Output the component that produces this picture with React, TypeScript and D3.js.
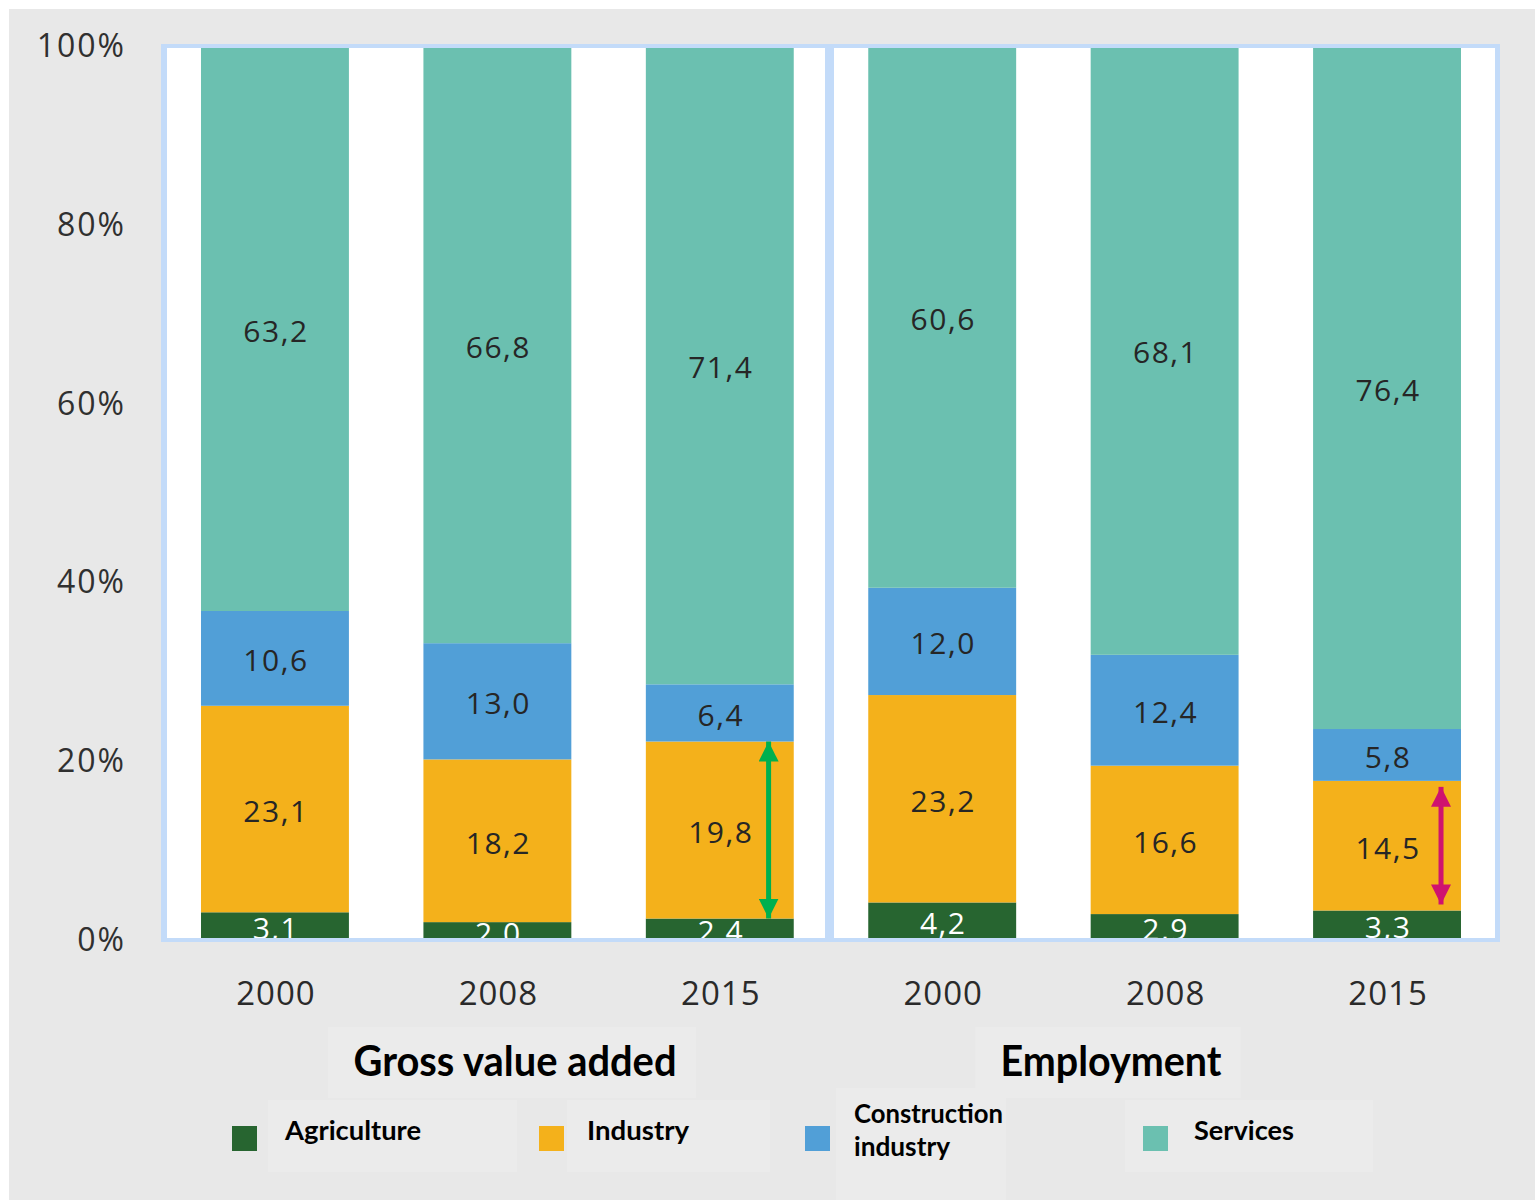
import React from "react";
import * as d3 from "d3";

const groups = ["Gross value added", "Employment"];
const years = ["2000", "2008", "2015"];
const sectors = ["Agriculture", "Industry", "Construction industry", "Services"];
const agriculture = [3.1, 2.0, 2.4, 4.2, 2.9, 3.3];
const industry = [23.1, 18.2, 19.8, 23.2, 16.6, 14.5];
const construction = [10.6, 13.0, 6.4, 12.0, 12.4, 5.8];
const services = [63.2, 66.8, 71.4, 60.6, 68.1, 76.4];
const yTicks = [0, 20, 40, 60, 80, 100];
const colors = ["#276530", "#f4b11b", "#519fd7", "#6bc0b0"];
const legendLines = [["Agriculture"], ["Industry"], ["Construction", "industry"], ["Services"]];
// annotation arrows: bar index, from stacked layer top -> to stacked layer top
const arrows = [
  { bar: 2, fromLayer: 0, toLayer: 1, color: "#00b04f", offset: 0.83, inset: 0 },
  { bar: 5, fromLayer: 0, toLayer: 1, color: "#cf136f", offset: 0.865, inset: 6 },
];

const W = 1535;
const H = 1200;

export default function App() {
  const keys = groups.flatMap((g) => years.map((y) => `${g}|${y}`));
  const rows = keys.map((k, i) => ({
    key: k,
    Agriculture: agriculture[i],
    Industry: industry[i],
    "Construction industry": construction[i],
    Services: services[i],
  }));
  const stack = d3.stack<any>().keys(sectors)(rows);

  const x = d3
    .scaleBand<string>()
    .domain(keys)
    .range([164, 1498])
    .paddingInner(0.335)
    .paddingOuter(0.1664);
  const y = d3.scaleLinear().domain([0, 100]).range([940, 46]);
  const bw = x.bandwidth();
  const fmt = (v: number) => d3.format(".1f")(v).replace(".", ",");

  const panels = [
    { outer: [161, 44, 667, 898], inner: [167, 48, 658, 890] },
    { outer: [828, 44, 672, 898], inner: [834, 48, 661, 890] },
  ];

  const titleBoxes = [
    { cx: 515, w: 368, len: 323 },
    { cx: 1111, w: 265, len: 221 },
  ];
  const legendItems = [
    { sx: 232, tx: 285, lens: [136], box: [268, 249] },
    { sx: 539, tx: 587, lens: [102], box: [567, 203] },
    { sx: 805, tx: 854, lens: [149, 96], box: [836, 170] },
    { sx: 1143, tx: 1194, lens: [100], box: [1125, 248] },
  ];

  return (
    <svg
      width={W}
      height={H}
      style={{ position: "absolute", left: 0, top: 0, display: "block" }}
    >
      <rect x={0} y={0} width={W} height={H} fill="#ffffff" />
      <rect x={9} y={9} width={W - 9} height={H - 9} fill="#e8e8e8" />
      <defs>
        {panels.map((p, i) => (
          <clipPath id={`clip${i}`} key={i}>
            <rect x={p.inner[0]} y={p.inner[1]} width={p.inner[2]} height={p.inner[3]} />
          </clipPath>
        ))}
        {arrows.map((a, i) => (
          <marker
            key={i}
            id={`ah${i}`}
            viewBox="0 0 10 10"
            refX={10}
            refY={5}
            markerUnits="userSpaceOnUse"
            markerWidth={20}
            markerHeight={20}
            orient="auto-start-reverse"
          >
            <path d="M0,0 L10,5 L0,10 Z" fill={a.color} />
          </marker>
        ))}
      </defs>

      {panels.map((p, i) => (
        <g key={i}>
          <rect x={p.outer[0]} y={p.outer[1]} width={p.outer[2]} height={p.outer[3]} fill="#c3dbf9" />
          <rect x={p.inner[0]} y={p.inner[1]} width={p.inner[2]} height={p.inner[3]} fill="#ffffff" />
        </g>
      ))}

      {panels.map((p, pi) => (
        <g key={pi} clipPath={`url(#clip${pi})`}>
          {stack.map((layer, li) =>
            layer
              .filter((_, bi) => Math.floor(bi / years.length) === pi)
              .map((d) => {
                const k = (d.data as any).key;
                return (
                  <rect
                    key={k + li}
                    x={x(k)}
                    y={y(d[1])}
                    width={bw}
                    height={y(d[0]) - y(d[1])}
                    fill={colors[li]}
                  />
                );
              })
          )}
          {stack.map((layer, li) =>
            layer
              .filter((_, bi) => Math.floor(bi / years.length) === pi)
              .map((d) => {
                const k = (d.data as any).key;
                const cy = (y(d[0]) + y(d[1])) / 2;
                return (
                  <text
                    key={"t" + k + li}
                    x={(x(k) as number) + bw / 2 + 1}
                    y={cy + 13}
                    textAnchor="middle"
                    fontFamily="'Open Sans', sans-serif"
                    fontSize={30}
                    letterSpacing={1.5}
                    fill={li === 0 ? "#ffffff" : "#262626"}
                  >
                    {fmt(d[1] - d[0])}
                  </text>
                );
              })
          )}
        </g>
      ))}

      {arrows.map((a, i) => {
        const k = keys[a.bar];
        const ax = (x(k) as number) + bw * a.offset;
        const y1 = y(stack[a.fromLayer][a.bar][1]) - a.inset;
        const y2 = y(stack[a.toLayer][a.bar][1]) + a.inset;
        return (
          <line
            key={i}
            x1={ax}
            x2={ax}
            y1={y1}
            y2={y2}
            stroke={a.color}
            strokeWidth={5}
            markerStart={`url(#ah${i})`}
            markerEnd={`url(#ah${i})`}
          />
        );
      })}

      {yTicks.map((t) => (
        <text
          key={t}
          x={126}
          y={y(t) + 11}
          textAnchor="end"
          fontFamily="'Open Sans', sans-serif"
          fontSize={32}
          letterSpacing={2}
          fill="#303030"
        >
          {t}%
        </text>
      ))}

      {keys.map((k) => (
        <text
          key={k}
          x={(x(k) as number) + bw / 2 + 1}
          y={1005}
          textAnchor="middle"
          fontFamily="'Open Sans', sans-serif"
          fontSize={33}
          letterSpacing={1}
          fill="#2a2a2a"
        >
          {k.split("|")[1]}
        </text>
      ))}

      {groups.map((g, i) => (
        <g key={g}>
          <rect
            x={titleBoxes[i].cx - titleBoxes[i].w / 2 - 3}
            y={1027}
            width={titleBoxes[i].w}
            height={71}
            fill="#ebebeb"
          />
          <text
            x={titleBoxes[i].cx}
            y={1076}
            textAnchor="middle"
            fontFamily="Lato, 'Open Sans', sans-serif"
            fontWeight="bold"
            fontSize={42}
            fill="#000000"
            textLength={titleBoxes[i].len}
            lengthAdjust="spacingAndGlyphs"
          >
            {g}
          </text>
        </g>
      ))}

      {sectors.map((s, i) => {
        const it = legendItems[i];
        const lines = legendLines[i];
        return (
          <g key={s}>
            <rect x={it.box[0]} y={i === 2 ? 1088 : 1100} width={it.box[1]} height={i === 2 ? 112 : 72} fill="#ebebeb" />
            <rect x={it.sx} y={1126} width={25} height={25} fill={colors[i]} />
            {lines.map((ln, j) => (
              <text
                key={j}
                x={it.tx}
                y={lines.length === 1 ? 1140 : 1123 + j * 33}
                fontFamily="Lato, 'Open Sans', sans-serif"
                fontWeight="bold"
                fontSize={26}
                fill="#000000"
                textLength={it.lens[j]}
                lengthAdjust="spacingAndGlyphs"
              >
                {ln}
              </text>
            ))}
          </g>
        );
      })}
    </svg>
  );
}
